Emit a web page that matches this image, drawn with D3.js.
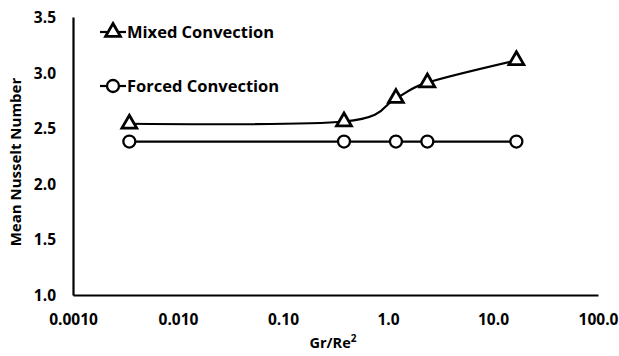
<!DOCTYPE html>
<html>
<head>
<meta charset="utf-8">
<script src="https://cdn.jsdelivr.net/npm/d3@7/dist/d3.min.js"></script>
<style>
  html, body { margin: 0; padding: 0; background: #fff; }
  svg { display: block; font-family: "Open Sans", Lato, sans-serif; font-weight: bold; }
</style>
</head>
<body>
<svg id="chart" width="619" height="356"></svg>
<script>
// Gr/Re^2 values and mean Nusselt numbers
const grRe2 = [0.00344, 0.381, 1.19, 2.37, 16.7];
const mixedNu = [2.54, 2.56, 2.77, 2.91, 3.11];
const forcedNu = [2.38, 2.38, 2.38, 2.38, 2.38];
const xTicks = [0.001, 0.01, 0.1, 1, 10, 100];
const xTickLabels = ["0.0010", "0.010", "0.10", "1.0", "10.0", "100.0"];
const yTicks = [1.0, 1.5, 2.0, 2.5, 3.0, 3.5];
const seriesNames = ["Mixed Convection", "Forced Convection"];

(function () {
const svg = d3.select("#chart");
const plotLeft = 73, plotRight = 598, plotTop = 17, plotBottom = 295;
const font = "'Open Sans', Lato, sans-serif";

const x = d3.scaleLog().domain([0.001, 100]).range([plotLeft, plotRight]);
const y = d3.scaleLinear().domain([1.0, 3.5]).range([plotBottom, plotTop]);

// Axes: plain lines, no tick marks
const xAxis = d3.axisBottom(x).tickValues(xTicks)
  .tickFormat((d, i) => xTickLabels[i]).tickSize(0).tickPadding(19);
const yAxis = d3.axisLeft(y).tickValues(yTicks)
  .tickFormat(d3.format(".1f")).tickSize(0).tickPadding(17);

const gx = svg.append("g").attr("transform", `translate(0,${plotBottom})`).call(xAxis);
const gy = svg.append("g").attr("transform", `translate(${plotLeft},0)`).call(yAxis);
[gx, gy].forEach(g => {
  g.select(".domain").attr("stroke", "#000").attr("stroke-width", 2.2);
  g.selectAll("text").attr("fill", "#000").style("font-size", "15.5px")
    .style("font-family", font).style("font-weight", "bold");
});
gy.selectAll("text").attr("dy", "0.35em");

// Axis titles
svg.append("text")
  .attr("x", 333).attr("y", 348).attr("text-anchor", "middle")
  .style("font-size", "14.5px")
  .text("Gr/Re")
  .append("tspan").attr("dy", -6).style("font-size", "10px").text("2");

svg.append("text")
  .attr("transform", "translate(21,162) rotate(-90)")
  .attr("text-anchor", "middle")
  .style("font-size", "15px")
  .text("Mean Nusselt Number");

// Series lines: smoothed mixed convection, straight forced convection
const mixedLine = d3.line()
  .x((d, i) => x(grRe2[i])).y(d => y(d))
  .curve(d3.curveCardinal.tension(0));
const forcedLine = d3.line()
  .x((d, i) => x(grRe2[i])).y(d => y(d));

svg.append("path").datum(mixedNu).attr("d", mixedLine)
  .attr("fill", "none").attr("stroke", "#000").attr("stroke-width", 2.2);
svg.append("path").datum(forcedNu).attr("d", forcedLine)
  .attr("fill", "none").attr("stroke", "#000").attr("stroke-width", 2.2);

const tri = d3.symbol().type(d3.symbolTriangle).size(95);

function triMarker(g, cx, cy) {
  g.append("path").attr("d", tri())
    .attr("transform", `translate(${cx},${cy})`)
    .attr("fill", "#fff").attr("stroke", "#000").attr("stroke-width", 2.8);
}
function circMarker(g, cx, cy) {
  g.append("circle").attr("cx", cx).attr("cy", cy).attr("r", 6)
    .attr("fill", "#fff").attr("stroke", "#000").attr("stroke-width", 2.3);
}

const marks = svg.append("g");
mixedNu.forEach((v, i) => triMarker(marks, x(grRe2[i]), y(v)));
forcedNu.forEach((v, i) => circMarker(marks, x(grRe2[i]), y(v)));

// Legend
const legend = svg.append("g");
const legY = [32, 86];
legY.forEach((ly, i) => {
  legend.append("line").attr("x1", 100).attr("x2", 126)
    .attr("y1", ly).attr("y2", ly)
    .attr("stroke", "#000").attr("stroke-width", 2.2);
  if (i === 0) triMarker(legend, 113, ly); else circMarker(legend, 113, ly);
  legend.append("text").attr("x", 127).attr("y", ly).attr("dy", "0.35em")
    .style("font-size", "16.5px").text(seriesNames[i]);
});
})();
</script>
</body>
</html>
